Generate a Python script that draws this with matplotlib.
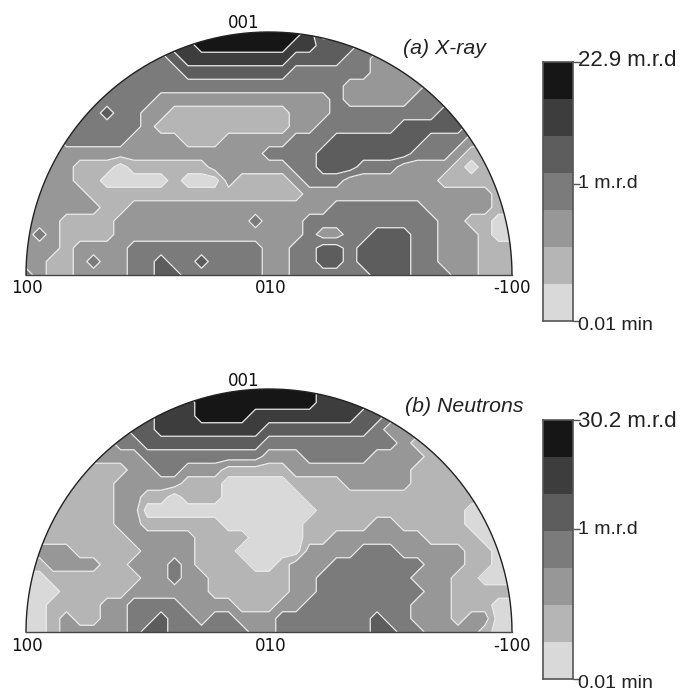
import numpy as np
import matplotlib
matplotlib.use("Agg")
import matplotlib.pyplot as plt
from matplotlib.colors import ListedColormap
from matplotlib.patches import Polygon

# contour class (1 lightest .. 7 darkest), top row = pole
xray_rows = [
    "5555555555567777777776444444444444444",
    "5555555555566777777766555444444444444",
    "4444444444456666666655554433333444444",
    "4444444444445555555544444433344444444",
    "4444444444444444444444443333334444444",
    "4444444444333333333333343333344444444",
    "4444445443322222222233344444444544444",
    "4444444443222222222233444444555554444",
    "3334444433332223333344455555554443333",
    "3333333333333333334444555555544432222",
    "3333222122222233333344555444333321222",
    "3333221111121113222234443333333222222",
    "3333322222222222222223333333333333322",
    "3333332233333333333333344444443333322",
    "3332222333333333343334444444444332211",
    "3432222333333333333334334455544333211",
    "3332333344444444443344554555544333222",
    "3322343344544544443344554555544333222",
    "4322333344554444443344444455544433222",
]
neutron_rows = [
    "5555555555667777777777666655555555555",
    "5555555555666777777777666644444444444",
    "5555555555666777766666666554333333333",
    "4444444455666666665555555543333333333",
    "3333333445555555554444444444322222222",
    "3333333334444444443334444433332222222",
    "2222222233443332222233333333322222222",
    "2222222333332221111122223333322222222",
    "2222222332212221111112222222222222222",
    "2222222331111111111111222222222221111",
    "2222222332222221111112222233222221111",
    "2222222233333222211112233333332222111",
    "3333222223333222111113333444333332211",
    "2233332233343222211233344444443332211",
    "1122222223343322222233444444433322111",
    "1112222233333322222233444444443322222",
    "1122223344443333222334444444433322211",
    "1123223344544344333444444454433323311",
    "1123333345544444433444444455443333211",
]
level_colors = ["#d9d9d9", "#b5b5b5", "#979797", "#7b7b7b", "#5d5d5d", "#3d3d3d", "#161616"]
pole_labels = ["100", "010", "-100", "001"]

W, H = 681, 692
fig = plt.figure(figsize=(W / 100, H / 100), dpi=100)


def px_axes(left, top, right, bottom):
    return fig.add_axes([left / W, 1 - bottom / H, (right - left) / W, (bottom - top) / H])


def draw_pole(rows, top, bottom, title, title_x, title_y, top_label_y, label_drop):
    ax = px_axes(26, top, 512, bottom)
    z = np.array([[int(c) for c in row] for row in rows], dtype=float)
    x = np.linspace(-1, 1, z.shape[1])
    y = np.linspace(1, 0, z.shape[0])
    t = np.linspace(0, np.pi, 300)
    clip = Polygon(np.column_stack([np.cos(t), np.sin(t)]), closed=True, transform=ax.transData)
    levels = np.arange(0.5, 8)
    cf = ax.contourf(x, y, z, levels=levels, colors=level_colors)
    cl = ax.contour(x, y, z, levels=levels[1:-1], colors="#ececec", linewidths=0.9)
    cf.set_clip_path(clip)
    cl.set_clip_path(clip)
    ax.plot(np.cos(t), np.sin(t), color="#222222", lw=1, clip_on=False)
    ax.plot([-1, 1], [0, 0], color="#444444", lw=1, clip_on=False)
    ax.set_xlim(-1, 1)
    ax.set_ylim(0, 1)
    ax.axis("off")
    kw = dict(family="DejaVu Sans", fontsize=12, color="#111111", clip_on=False)
    ax.text(-0.998, -label_drop, pole_labels[0], ha="center", va="top", **kw)
    ax.text(0.005, -label_drop, pole_labels[1], ha="center", va="top", **kw)
    ax.text(0.998, -label_drop, pole_labels[2], ha="center", va="top", **kw)
    ax.text(-0.106, (bottom - top_label_y) / (bottom - top), pole_labels[3], ha="center", va="center", **kw)
    fig.text(title_x / W, 1 - title_y / H, title, family="Liberation Sans", style="italic",
             fontsize=15.3, color="#222222", va="center")


def draw_scale(top, bottom, labels, label_ys):
    ax = px_axes(543, top, 573, bottom)
    cells = np.arange(7)[:, None]
    ax.pcolormesh([0, 1], np.arange(8), cells, cmap=ListedColormap(level_colors), vmin=-0.5, vmax=6.5)
    ax.set_xlim(0, 1)
    ax.set_ylim(0, 7)
    ax.set_xticks([])
    ax.yaxis.tick_right()
    # the middle tick sits level with its label, not at the middle of the bar
    ax.set_yticks([0, 7 * (bottom - label_ys[1]) / (bottom - top), 7])
    ax.set_yticklabels([])
    ax.tick_params(axis="y", length=5, width=1, color="#555555")
    for s in ax.spines.values():
        s.set_color("#555555")
        s.set_linewidth(1.2)
    for lab, ly, size in zip(labels, label_ys, [16, 14, 14]):
        fig.text(578 / W, 1 - ly / H, lab, family="Liberation Sans", fontsize=size,
                 color="#222222", va="center")


draw_pole(xray_rows, 32, 275, "(a) X-ray", 403, 49, 23, 0.016)
draw_pole(neutron_rows, 389, 632, "(b) Neutrons", 405, 406, 381, 0.022)
draw_scale(62, 321, ["22.9 m.r.d", "1 m.r.d", "0.01 min"], [60, 184, 326])
draw_scale(420, 679, ["30.2 m.r.d", "1 m.r.d", "0.01 min"], [421, 529, 683])

fig.savefig("out.png", dpi=100)
